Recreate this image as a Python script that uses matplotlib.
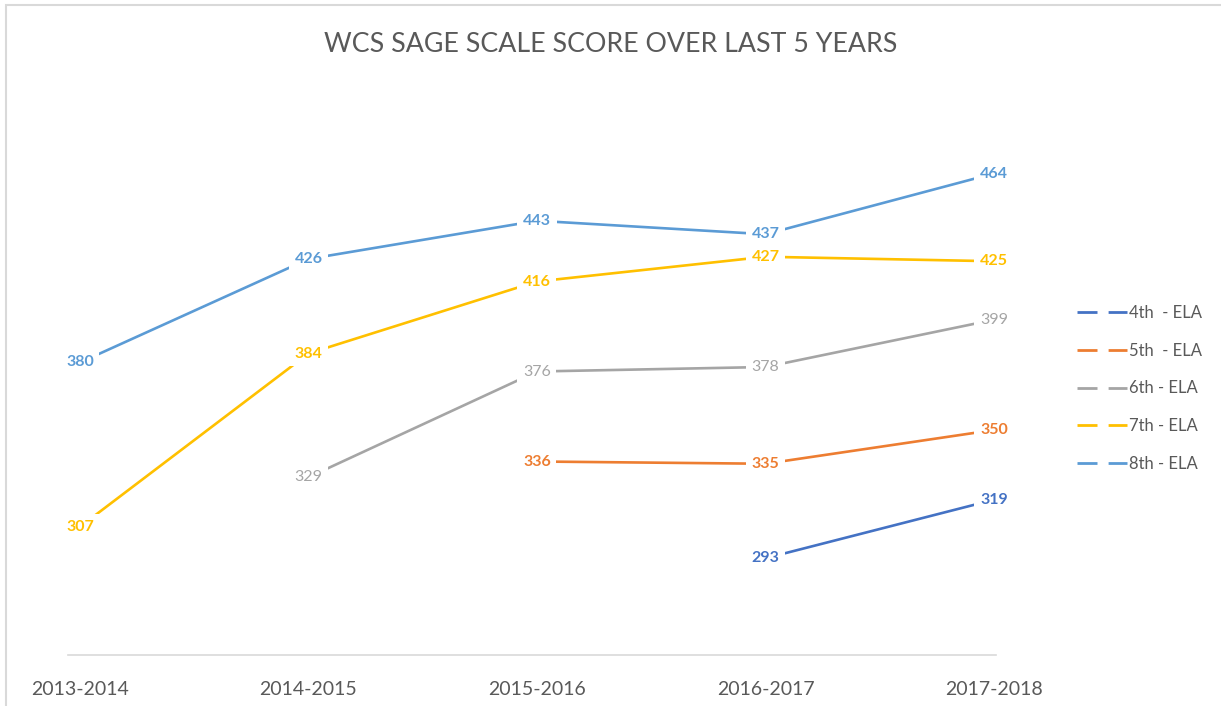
import numpy as np
import matplotlib
matplotlib.use("Agg")
import matplotlib.pyplot as plt
from matplotlib.lines import Line2D
from matplotlib.patches import Rectangle

plt.rcParams['font.family'] = ['Lato', 'DejaVu Sans']

# data
years = ["2013-2014", "2014-2015", "2015-2016", "2016-2017", "2017-2018"]
series_names = ["4th  - ELA", "5th  - ELA", "6th - ELA", "7th - ELA", "8th - ELA"]
grade4 = [np.nan, np.nan, np.nan, 293, 319]
grade5 = [np.nan, np.nan, 336, 335, 350]
grade6 = [np.nan, 329, 376, 378, 399]
grade7 = [307, 384, 416, 427, 425]
grade8 = [380, 426, 443, 437, 464]
colors = ["#4472C4", "#ED7D31", "#A5A5A5", "#FFC000", "#5B9BD5"]
label_weights = ["bold", "bold", "normal", "bold", "bold"]

all_series = [grade4, grade5, grade6, grade7, grade8]

fig = plt.figure(figsize=(12.21, 7.06), dpi=100)
ax = fig.add_axes([68 / 1221, 51 / 706, (996 - 68) / 1221, (655 - 92.5) / 706])

x = np.arange(len(years))
for vals, name, c, w in zip(all_series, series_names, colors, label_weights):
    vals = np.array(vals, dtype=float)
    ax.plot(x, vals, color=c, lw=1.9, solid_capstyle='round', zorder=2)
    for xi, v in zip(x, vals):
        if np.isnan(v):
            continue
        ax.text(xi, v, f"{int(v)}", color=c, fontsize=11.5, fontweight=w,
                ha='center', va='center', zorder=3,
                bbox=dict(boxstyle='square,pad=0.35', fc='white', ec='none'))

ax.set_xlim(-0.0525, 4.009)
ax.set_ylim(250, 500)
ax.set_yticks([])
ax.set_xticks(x)
ax.set_xticklabels(years, fontsize=14, color='#595959')
ax.tick_params(axis='x', length=0, pad=19)
for s in ['top', 'right', 'left']:
    ax.spines[s].set_visible(False)
ax.spines['bottom'].set_color('#D9D9D9')
ax.spines['bottom'].set_linewidth(1.2)

fig.text(0.5, 1 - 45 / 706, "WCS SAGE SCALE SCORE OVER LAST 5 YEARS",
         ha='center', va='center', fontsize=19.3, color='#595959')

handles = [Line2D([0], [0], color=c, lw=2, linestyle=(0, (7.2, 4))) for c in colors]
fig.legend(handles, series_names, loc='upper left', bbox_to_anchor=(1062 / 1221, 1 - 290 / 706),
           frameon=False, fontsize=12, labelcolor='#595959', handlelength=3.0,
           handletextpad=0.1, labelspacing=1.3)

# light frame on the left and top
fig.patches.append(Rectangle((6 / 1221, -0.1), 1.2, 1 - 5 / 706 + 0.1, transform=fig.transFigure,
                             fill=False, ec='#D9D9D9', lw=1.5))

fig.savefig("out.png", dpi=100)
